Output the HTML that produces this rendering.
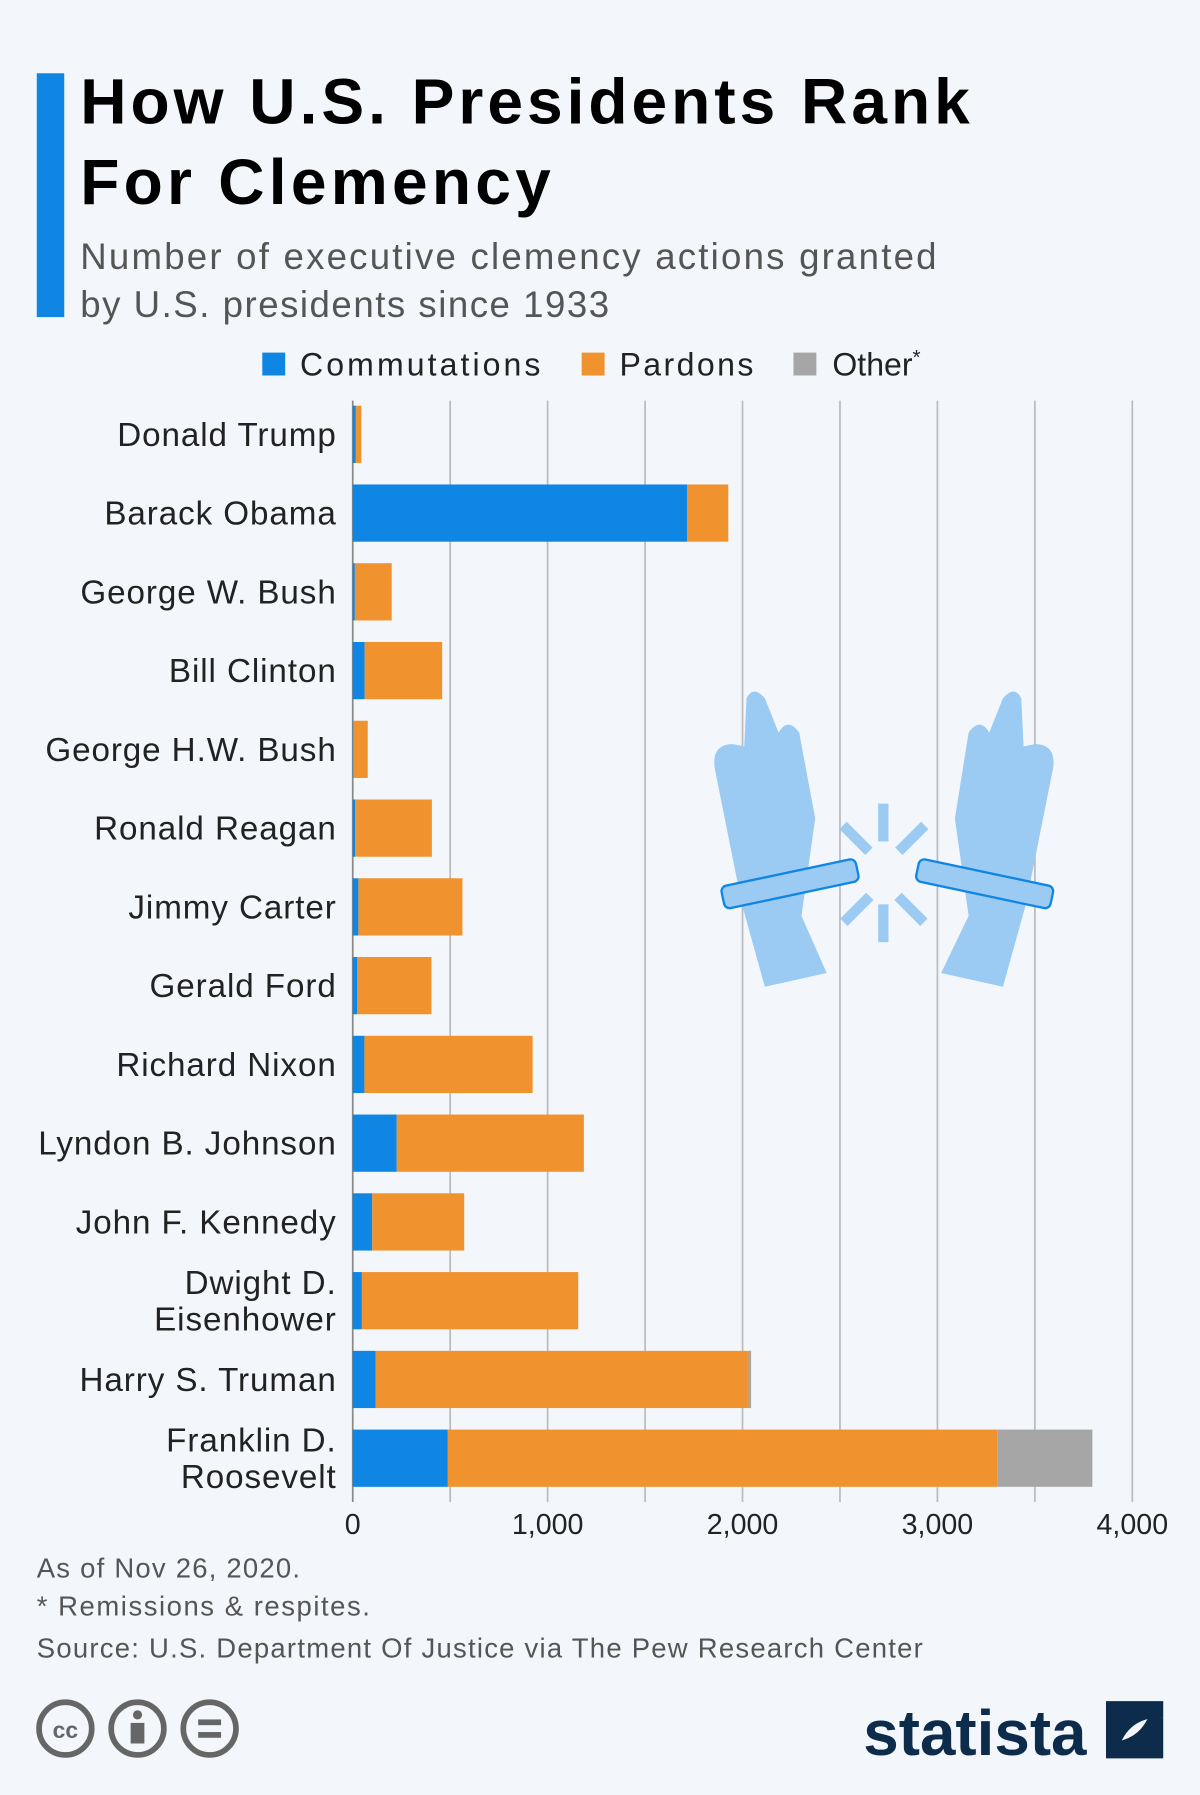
<!DOCTYPE html>
<html><head><meta charset="utf-8"><style>
html,body{margin:0;padding:0;background:#f3f7fb;}
svg{display:block;}
text{font-family:"Liberation Sans","DejaVu Sans",sans-serif;}
</style></head><body>
<svg id="chart" width="1200" height="1795" viewBox="0 0 1048 1568" xmlns="http://www.w3.org/2000/svg">
<rect width="1048" height="1568" fill="#f3f7fb"/>
<rect x="32" y="64" width="24" height="213" fill="#0f85e4"/>
<text x="70" y="108" font-size="56" font-weight="bold" fill="#000" textLength="777" lengthAdjust="spacing">How U.S. Presidents Rank</text>
<text x="70" y="178" font-size="56" font-weight="bold" fill="#000" textLength="411" lengthAdjust="spacing">For Clemency</text>
<text x="70" y="235" font-size="32" fill="#555" textLength="748" lengthAdjust="spacing">Number of executive clemency actions granted</text>
<text x="70" y="277" font-size="32" fill="#555" textLength="462" lengthAdjust="spacing">by U.S. presidents since 1933</text>
<g>
<rect x="229" y="308" width="20" height="20" fill="#0f85e4"/>
<text x="262" y="328" font-size="28" fill="#222" textLength="210" lengthAdjust="spacing">Commutations</text>
<rect x="508" y="308" width="20" height="20" fill="#f0922e"/>
<text x="541" y="328" font-size="28" fill="#222" textLength="117" lengthAdjust="spacing">Pardons</text>
<rect x="693" y="308" width="20" height="20" fill="#a6a6a6"/>
<text x="727" y="328" font-size="28" fill="#222">Other<tspan font-size="18" dy="-10">*</tspan></text>
</g>
<g id="grid"></g>
<g id="illus" fill="#9bcaf2">
<path d="M624 670 Q622 650 640 650 L650 652 L652 610 Q658 598 668 610 L680 640 Q688 626 698 640 L712 715 L700 800 L722 850 L668 862 L648 790 Z"/>
<path d="M920 670 Q922 650 904 650 L894 652 L892 610 Q886 598 876 610 L864 640 Q856 626 846 640 L834 715 L846 800 L822 850 L876 862 L896 790 Z"/>
<g transform="rotate(-12 690 772)"><rect x="630" y="762" width="120" height="20" rx="5" fill="#9bcaf2" stroke="#0f85e4" stroke-width="2"/></g>
<g transform="rotate(12 860 772)"><rect x="800" y="762" width="120" height="20" rx="5" fill="#9bcaf2" stroke="#0f85e4" stroke-width="2"/></g>
<rect x="767" y="702" width="9" height="33"/>
<rect x="767" y="790" width="9" height="33"/>
<rect x="732" y="728" width="32" height="9" transform="rotate(45 748 732)"/>
<rect x="780" y="728" width="32" height="9" transform="rotate(-45 796 732)"/>
<rect x="732" y="790" width="32" height="9" transform="rotate(-45 748 794)"/>
<rect x="780" y="790" width="32" height="9" transform="rotate(45 796 794)"/>
</g>
<g id="bars"></g>
<g id="labels"></g>
<g id="ticks"></g>
<text x="32" y="1378" font-size="24" fill="#555" textLength="230" lengthAdjust="spacing">As of Nov 26, 2020.</text>
<text x="32" y="1411" font-size="24" fill="#555" textLength="291" lengthAdjust="spacing">* Remissions &amp; respites.</text>
<text x="32" y="1448" font-size="24" fill="#555" textLength="774" lengthAdjust="spacing">Source: U.S. Department Of Justice via The Pew Research Center</text>
<g fill="none" stroke="#666" stroke-width="5">
<circle cx="57" cy="1510" r="23"/><circle cx="120" cy="1510" r="23"/><circle cx="183" cy="1510" r="23"/>
<text x="57" y="1518" font-size="20" font-weight="bold" fill="#666" stroke="none" text-anchor="middle">cc</text>
<circle cx="120" cy="1498" r="4" fill="#666" stroke="none"/><rect x="114" y="1505" width="12" height="18" fill="#666" stroke="none"/>
<rect x="173" y="1502" width="20" height="5" fill="#666" stroke="none"/><rect x="173" y="1513" width="20" height="5" fill="#666" stroke="none"/>
</g>
<text x="754" y="1533" font-size="56" font-weight="bold" fill="#0d2c4b" textLength="195" lengthAdjust="spacingAndGlyphs">statista</text>
<path d="M966 1486 L1016 1486 L1016 1500 Q990 1500 980 1520 L966 1534 Z M1016 1536 L966 1536 L966 1522 Q992 1522 1002 1502 L1016 1488 Z" fill="#0d2c4b"/>
<script>
const presidents=["Donald Trump","Barack Obama","George W. Bush","Bill Clinton","George H.W. Bush","Ronald Reagan","Jimmy Carter","Gerald Ford","Richard Nixon","Lyndon B. Johnson","John F. Kennedy","Dwight D.|Eisenhower","Harry S. Truman","Franklin D.|Roosevelt"];
const commutations=[16,1715,11,61,3,13,29,22,60,226,100,47,118,488];
const pardons=[28,212,189,398,74,393,534,382,863,960,472,1110,1913,2819];
const other=[0,0,0,0,0,0,0,0,0,0,0,0,13,488];
const tickValues=[0,1000,2000,3000,4000];
const tickLabels=["0","1,000","2,000","3,000","4,000"];
const NS="http://www.w3.org/2000/svg";
const x0=308,x1=989,maxV=4000;
const xs=v=>x0+(x1-x0)*v/maxV;
const rowTop=345,rowH=68.8,barH=50;
const yc=i=>rowTop+rowH*i+rowH/2;
function mk(tag,attrs,parent){const e=document.createElementNS(NS,tag);for(const k in attrs)e.setAttribute(k,attrs[k]);parent.appendChild(e);return e;}
const grid=document.getElementById('grid'),bars=document.getElementById('bars'),labels=document.getElementById('labels'),ticks=document.getElementById('ticks');
tickValues.forEach((v,k)=>{
 const g=mk('line',{x1:xs(v),x2:xs(v),y1:350,y2:1312,stroke:k===0?'#888':'#bbb','stroke-width':1.5},grid);
 
 
 const t=mk('text',{x:xs(v),y:1340,'font-size':25,fill:'#222','text-anchor':'middle'},ticks);
 t.textContent=tickLabels[k];
 
 
});
for(let k=0;k<4;k++){const mv=500+1000*k;
 const m=mk('line',{x1:xs(mv),x2:xs(mv),y1:350,y2:1312,stroke:'#bbb','stroke-width':1.5},grid);
 
 }
presidents.forEach((p,i)=>{
 const y=yc(i)-barH/2;
 const segs=[[0,commutations[i],'#0f85e4','commutations'],[commutations[i],commutations[i]+pardons[i],'#f0922e','pardons'],[commutations[i]+pardons[i],commutations[i]+pardons[i]+other[i],'#a6a6a6','other']];
 segs.forEach(s=>{ if(s[1]<=s[0])return;
  const r=mk('rect',{x:xs(s[0]),y:y,width:xs(s[1])-xs(s[0]),height:barH,fill:s[2]},bars);
  
  
 });
 const parts=p.split('|');
 const t=mk('text',{x:294,'font-size':29,fill:'#222','text-anchor':'end','letter-spacing':0.8},labels);
 
 
 parts.forEach((s,j)=>{const ts=mk('tspan',{x:294,y:yc(i)+10+(parts.length>1?(j?16:-16):0)},t);ts.textContent=s;});
});
</script>
</svg>
</body></html>
